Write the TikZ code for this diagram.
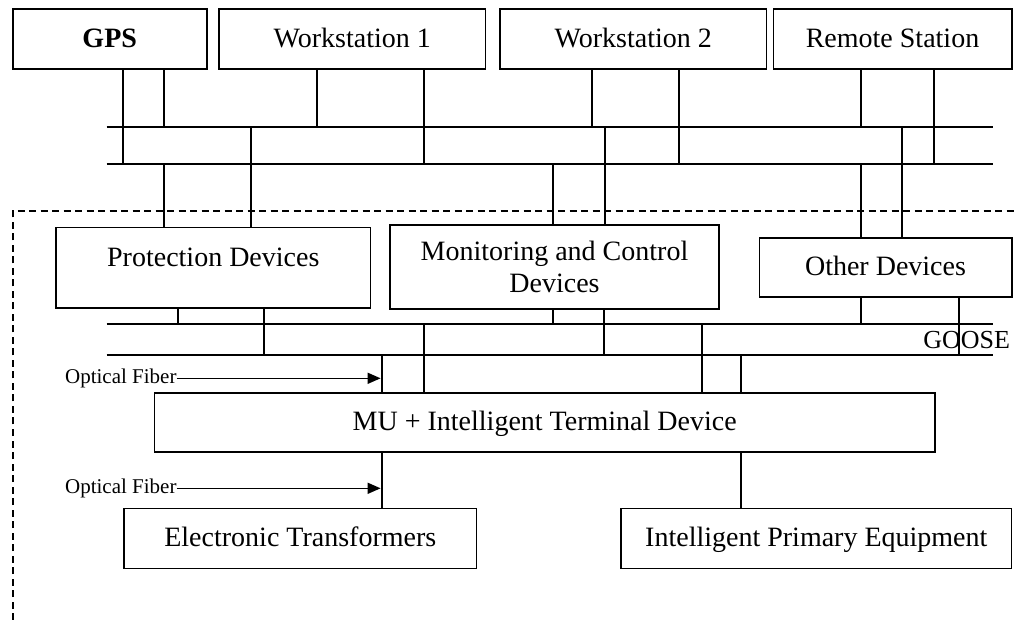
\documentclass[tikz,border=0pt]{standalone}
\usepackage{fontspec}
\setmainfont{Liberation Serif}
\usetikzlibrary{arrows.meta}
\tikzset{
  box/.style={draw, line width=1.6pt, inner sep=0pt, font=\fontsize{28}{32}\selectfont, align=center},
  onebox/.style={box, text height=19.6pt, text depth=3.4pt},
  wire/.style={line width=2.2pt},
  thinwire/.style={line width=1.7pt},
  bus/.style={line width=2.3pt},
  arr/.style={line width=1.5pt, -{Triangle[length=13pt,width=11pt]}},
  lbl/.style={inner sep=0pt, font=\fontsize{21}{24}\selectfont},
  border/.style={line width=2.2pt, dash pattern=on 7pt off 4.5pt},
}
\begin{document}
\begin{tikzpicture}[x=1pt,y=-1pt]
\useasboundingbox (0,0) rectangle (1018,620);
% top boxes
\node[onebox, minimum width=194pt, minimum height=60pt] (gps) at (109.7,39) {\bfseries GPS};
\node[onebox, minimum width=266.7pt, minimum height=60pt] (ws1) at (352.3,39) {Workstation 1};
\node[onebox, minimum width=266.7pt, minimum height=60pt] (ws2) at (633.3,39) {Workstation 2};
\node[onebox, minimum width=238.4pt, minimum height=60pt] (rs) at (892.5,39) {Remote Station};
% device boxes
\node[onebox, minimum width=314.7pt, minimum height=80.6pt, text depth=21.6pt] (prot) at (213.3,268) {Protection Devices};
\node[box, minimum width=329pt, minimum height=84pt] (mon) at (554.5,267) {Monitoring and Control\\Devices};
\node[onebox, minimum width=252.4pt, minimum height=59pt] (oth) at (885.5,267.8) {Other Devices};
\node[onebox, minimum width=780.7pt, minimum height=58.4pt] (mu) at (544.7,422.5) {MU + Intelligent Terminal Device};
\node[onebox, minimum width=352.7pt, minimum height=60pt] (et) at (300.3,538.3) {Electronic Transformers};
\node[onebox, minimum width=390.7pt, minimum height=60pt] (ipe) at (816.3,538.3) {Intelligent Primary Equipment};
% buses
\coordinate (b1l) at (106.7,127.3); \coordinate (b1r) at (993.3,127.3);
\coordinate (b2l) at (106.7,164.3); \coordinate (b2r) at (993.3,164.3);
\coordinate (b3l) at (106.7,324.3); \coordinate (b3r) at (993.3,324.3);
\coordinate (b4l) at (106.7,355);   \coordinate (b4r) at (993.3,355);
\draw[bus] (b1l) -- (b1r);
\draw[bus] (b2l) -- (b2r);
\draw[bus] (b3l) -- (b3r);
\draw[bus] (b4l) -- (b4r);
% dashed border
\coordinate (dbl) at (12.7,620); \coordinate (dtl) at (12.7,211); \coordinate (dtr) at (1018,211);
\draw[border] (dbl) -- (dtl) -- (dtr);
% top stations to buses
\draw[wire] (123.3,0 |- gps.south) -- (123.3,0 |- b2l);
\draw[wire] (164.3,0 |- gps.south) -- (164.3,0 |- b1l);
\draw[wire] (316.7,0 |- ws1.south) -- (316.7,0 |- b1l);
\draw[wire] (424.3,0 |- ws1.south) -- (424.3,0 |- b2l);
\draw[wire] (592.3,0 |- ws2.south) -- (592.3,0 |- b1l);
\draw[wire] (679.3,0 |- ws2.south) -- (679.3,0 |- b2l);
\draw[wire] (861,0 |- rs.south) -- (861,0 |- b1l);
\draw[wire] (934.3,0 |- rs.south) -- (934.3,0 |- b2l);
% buses to devices
\draw[thinwire] (164.3,0 |- b2l) -- (164.3,0 |- prot.north);
\draw[thinwire] (251,0 |- b1l) -- (251,0 |- prot.north);
\draw[thinwire] (553.3,0 |- b2l) -- (553.3,0 |- mon.north);
\draw[thinwire] (605,0 |- b1l) -- (605,0 |- mon.north);
\draw[wire] (861,0 |- b2l) -- (861,0 |- oth.north);
\draw[wire] (901.7,0 |- b1l) -- (901.7,0 |- oth.north);
% devices to lower buses
\draw[thinwire] (178.3,0 |- prot.south) -- (178.3,0 |- b3l);
\draw[wire] (264,0 |- prot.south) -- (264,0 |- b4l);
\draw[thinwire] (553.3,0 |- mon.south) -- (553.3,0 |- b3l);
\draw[thinwire] (604.3,0 |- mon.south) -- (604.3,0 |- b4l);
\draw[wire] (861,0 |- oth.south) -- (861,0 |- b3l);
\draw[wire] (959.3,0 |- oth.south) -- (959.3,0 |- b4l);
% lower buses to MU
\draw[wire] (381.7,0 |- b4l) -- (381.7,0 |- mu.north);
\draw[wire] (424.3,0 |- b3l) -- (424.3,0 |- mu.north);
\draw[wire] (702.3,0 |- b3l) -- (702.3,0 |- mu.north);
\draw[wire] (740.7,0 |- b4l) -- (740.7,0 |- mu.north);
% MU to equipment
\draw[wire] (381.7,0 |- mu.south) -- (381.7,0 |- et.north);
\draw[wire] (740.7,0 |- mu.south) -- (740.7,0 |- ipe.north);
% labels
\node[lbl, anchor=east] (of1) at (176.7,378.3) {Optical Fiber};
\node[lbl, anchor=east] (of2) at (176.7,488.3) {Optical Fiber};
\draw[arr] (of1.east) -- (380.6,0 |- of1.east);
\draw[arr] (of2.east) -- (380.6,0 |- of2.east);
\node[inner sep=0pt, font=\fontsize{26}{30}\selectfont] (goose) at (966.7,340) {GOOSE};
\end{tikzpicture}
\end{document}
